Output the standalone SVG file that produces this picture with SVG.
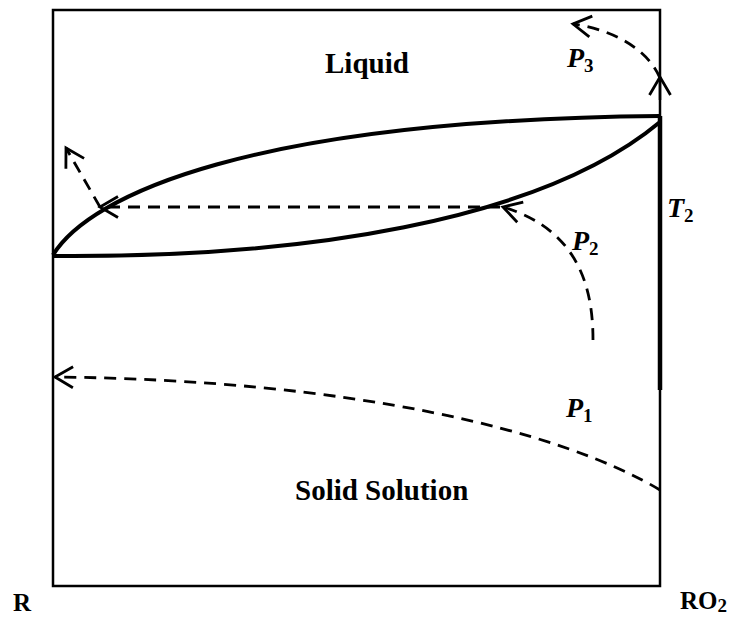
<svg xmlns="http://www.w3.org/2000/svg" width="731" height="617" viewBox="0 0 731 617">
<style>
.box{fill:none;stroke:#000;stroke-width:2.5}
.solid{fill:none;stroke:#000;stroke-width:4}
.thick{fill:none;stroke:#000;stroke-width:4.5}
.dash{fill:none;stroke:#000;stroke-width:2.8;stroke-dasharray:12 8}
.lbl{font-family:"Liberation Serif","Times New Roman",serif;font-weight:bold;fill:#000}
.it{font-style:italic}
.sub{font-style:normal;font-size:19px}
</style>
<defs>
<marker id="arr" markerUnits="userSpaceOnUse" viewBox="-22 -13 26 26" refX="0" refY="0" markerWidth="26" markerHeight="26" orient="auto" overflow="visible">
<path d="M-18,-10.5 L0,0 L-18,10.5" fill="none" stroke="#000" stroke-width="2.8" stroke-linejoin="miter"/>
</marker>
</defs>
<g id="frame">
<rect class="box" x="53" y="10" width="607" height="576"/>
</g>
<g id="liquidus">
<path class="solid" d="M53,255 C90,195 250,120 660,116"/>
</g>
<g id="solidus">
<path class="solid" d="M53,256 C300,258 540,222 660,122"/>
</g>
<g id="T2-line">
<path class="thick" d="M660,116 L660,390"/>
</g>
<g id="connectors">
<path class="dash" d="M500,207 L100,207" marker-end="url(#arr)"/>
<path class="dash" d="M100,207 L66,148" marker-end="url(#arr)"/>
<path class="dash" d="M593,340 C593,290 580,230 503,207" marker-end="url(#arr)"/>
<path class="box" d="M660,100 L660,77" marker-end="url(#arr)"/>
<path class="dash" d="M660,78 C648,50 615,30 573,24" marker-end="url(#arr)"/>
<path class="dash" d="M660,490 C560,430 350,380 55,377" marker-end="url(#arr)"/>
</g>
<g id="labels">
<text class="lbl" x="325" y="73" font-size="29">Liquid</text>
<text class="lbl" x="295" y="500" font-size="29">Solid Solution</text>
<text class="lbl it" x="567" y="67" font-size="28">P<tspan class="sub" dy="5">3</tspan></text>
<text class="lbl it" x="667" y="217" font-size="28">T<tspan class="sub" dy="5">2</tspan></text>
<text class="lbl it" x="572" y="250" font-size="28">P<tspan class="sub" dy="5">2</tspan></text>
<text class="lbl it" x="566" y="417" font-size="28">P<tspan class="sub" dy="5">1</tspan></text>
<text class="lbl" x="13" y="611" font-size="25">R</text>
<text class="lbl" x="680" y="609" font-size="25">RO<tspan class="sub" dy="3">2</tspan></text>
</g>
</svg>
